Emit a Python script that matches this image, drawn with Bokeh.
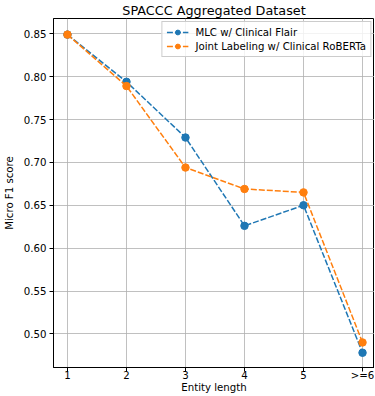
from bokeh.plotting import figure
from bokeh.models import Range1d, FixedTicker, Legend, LegendItem
from bokeh.embed import file_html
from bokeh.resources import INLINE

x_pos = [1, 2, 3, 4, 5, 6]
x_labels = ["1", "2", "3", "4", "5", ">=6"]
mlc_flair = [0.849, 0.794, 0.729, 0.626, 0.650, 0.478]
joint_roberta = [0.849, 0.789, 0.694, 0.669, 0.665, 0.490]
series_names = ["MLC w/ Clinical Flair", "Joint Labeling w/ Clinical RoBERTa"]
y_ticks = [0.50, 0.55, 0.60, 0.65, 0.70, 0.75, 0.80, 0.85]
title_text = "SPACCC Aggregated Dataset"

FONT = "DejaVu Sans"

p = figure(width=374, height=395, output_backend="svg", toolbar_location=None,
           x_range=Range1d(0.7635, 6.203), y_range=Range1d(0.4608, 0.8678),
           min_border_left=0, min_border_right=0, min_border_top=0, min_border_bottom=0)

p.title.text = title_text
p.title.align = "center"
p.title.text_font = FONT
p.title.text_font_size = "12.8px"
p.title.text_font_style = "normal"
p.title.text_color = "black"
p.title.standoff = 1
p.title.offset = 0

p.outline_line_color = "black"
p.outline_line_width = 1
p.background_fill_color = "white"
p.border_fill_color = "white"

for ax in (p.xaxis[0], p.yaxis[0]):
    ax.axis_line_color = "black"
    ax.major_tick_line_color = "black"
    ax.major_tick_in = 0
    ax.major_tick_out = 4
    ax.minor_tick_line_color = None
    ax.major_label_text_font = FONT
    ax.major_label_text_font_size = "10.2px"
    ax.major_label_text_color = "black"
    ax.axis_label_text_font = FONT
    ax.axis_label_text_font_size = "10.2px"
    ax.axis_label_text_font_style = "normal"
    ax.axis_label_text_color = "black"

p.xaxis.major_label_standoff = -2
p.xaxis.axis_label_standoff = -2
p.yaxis.major_label_standoff = 3
p.yaxis.axis_label_standoff = 6

p.xaxis.ticker = FixedTicker(ticks=x_pos)
p.xaxis.major_label_overrides = {x: lab for x, lab in zip(x_pos, x_labels)}
p.xaxis.axis_label = "Entity length"
p.yaxis.ticker = FixedTicker(ticks=y_ticks)
p.yaxis.major_label_overrides = {t: f"{t:.2f}" for t in y_ticks}
p.yaxis.axis_label = "Micro F1 score"

p.grid.grid_line_color = "#b0b0b0"
p.grid.grid_line_width = 0.8

colors = ["#1f77b4", "#ff7f0e"]
items = []
for ys, c, name in zip([mlc_flair, joint_roberta], colors, series_names):
    l = p.line(x_pos, ys, line_color=c, line_width=1.5, line_dash="6 2")
    s = p.scatter(x_pos, ys, size=7.5, fill_color=c, line_color=c)
    items.append(LegendItem(label=name, renderers=[l, s]))

legend = Legend(items=items, location="top_right")
legend.label_text_font = FONT
legend.label_text_font_size = "10.2px"
legend.label_text_color = "black"
legend.border_line_color = "#cccccc"
legend.border_line_alpha = 1
legend.background_fill_alpha = 0.8
legend.glyph_width = 22
legend.glyph_height = 12
legend.label_height = 12
legend.spacing = 2
legend.padding = 4
legend.margin = 3
legend.label_standoff = 7
p.add_layout(legend)

open("out.html", "w").write(file_html(p, INLINE))
